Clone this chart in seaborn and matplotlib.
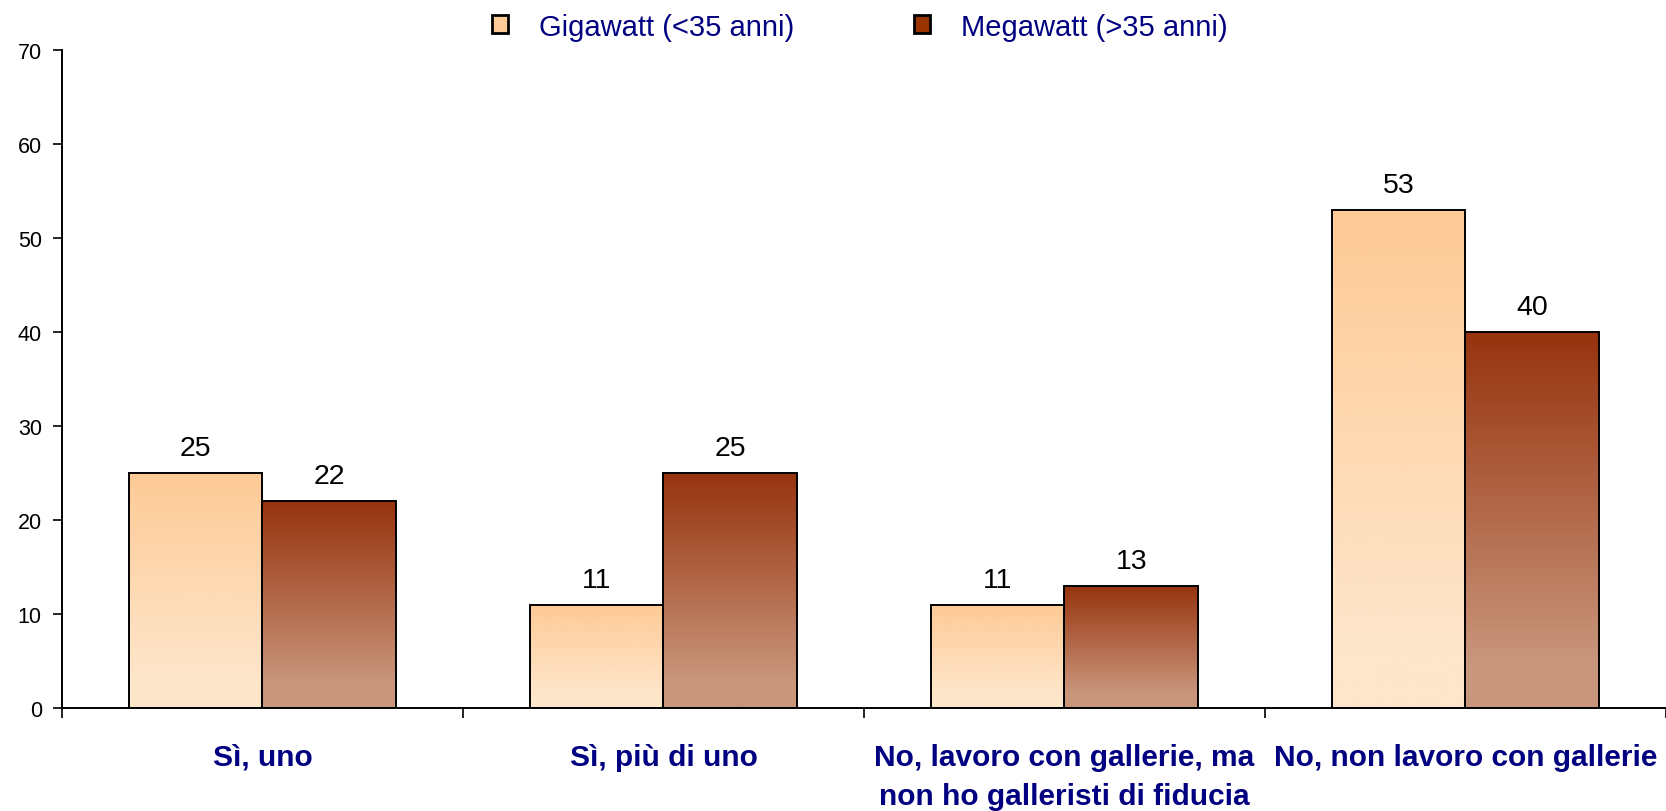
import numpy as np
import pandas as pd
import matplotlib
matplotlib.use("Agg")
import matplotlib.pyplot as plt
import seaborn as sns
from matplotlib.colors import to_rgba

categories = ["Sì, uno", "Sì, più di uno",
              "No, lavoro con gallerie, ma\nnon ho galleristi di fiducia",
              "No, non lavoro con gallerie"]
series_names = ["Gigawatt (<35 anni)", "Megawatt (>35 anni)"]
giga_values = [25, 11, 11, 53]
mega_values = [22, 25, 13, 40]
y_ticks = [0, 10, 20, 30, 40, 50, 60, 70]

legend_colors = ["#FFCC99", "#993300"]
grad_top = ["#FECA96", "#97330E"]
grad_bottom = ["#FEE6CB", "#C9967C"]

sns.set_theme(style="white")
plt.rcParams["font.family"] = ["Liberation Sans", "DejaVu Sans"]

df = pd.DataFrame({
    "cat": categories * 2,
    "val": giga_values + mega_values,
    "serie": [series_names[0]] * 4 + [series_names[1]] * 4,
})

fig = plt.figure(figsize=(16.66, 8.12), dpi=100)
ax = fig.add_axes([0.0372, 0.1268, 0.9628, 0.8102])

sns.barplot(data=df, x="cat", y="val", hue="serie", order=categories,
            hue_order=series_names, palette=legend_colors, saturation=1,
            edgecolor="black", linewidth=1.4, width=0.667, ax=ax)

# gradient fill inside every bar
for ci, cont in enumerate(ax.containers):
    top = np.array(to_rgba(grad_top[ci]))
    bot = np.array(to_rgba(grad_bottom[ci]))
    t = np.linspace(0, 1, 256)
    t = np.clip((t - 0.12) / 0.88, 0, 1)
    arr = bot[None, :] * (1 - t[:, None]) + top[None, :] * t[:, None]
    arr = arr[:, None, :]
    for p in cont.patches:
        x0, w, h = p.get_x(), p.get_width(), p.get_height()
        im = ax.imshow(arr, extent=[x0, x0 + w, 0, h], origin="lower",
                       aspect="auto", zorder=p.get_zorder() - 0.01,
                       interpolation="bilinear")
        im.set_clip_path(p)
        p.set_facecolor("none")
    ax.bar_label(cont, labels=[f"{v:g}" for v in cont.datavalues],
                 padding=8.5, fontsize=20.5, color="black")

ax.set_xlim(-0.5, 3.5)
ax.set_ylim(0, 70)
ax.set_yticks(y_ticks)
ax.set_yticklabels([str(v) for v in y_ticks], fontsize=15.5, color="black")
ax.set_xlabel("")
ax.set_ylabel("")

ax.set_xticks(range(len(categories)))
ax.set_xticklabels(categories, fontsize=21.5, fontweight="bold",
                   color="#000080", linespacing=1.5)
ax.set_xticks([-0.5, 0.5, 1.5, 2.5, 3.5], minor=True)
ax.tick_params(axis="x", which="major", length=0, pad=25)
ax.tick_params(axis="x", which="minor", length=7, width=1.2,
               direction="out", bottom=True, color="black")
ax.tick_params(axis="y", length=6.5, width=1.2, direction="out", left=True,
               color="black", pad=8)

for s in ["top", "right"]:
    ax.spines[s].set_visible(False)
for s in ["left", "bottom"]:
    ax.spines[s].set_color("black")
    ax.spines[s].set_linewidth(1.4)
ax.grid(False)

handles, labels = ax.get_legend_handles_labels()
for h, c in zip(handles, legend_colors):
    h.set_facecolor(c)
    h.set_edgecolor("black")
    h.set_linewidth(2)
leg = ax.legend(handles, labels, loc="center",
                bbox_to_anchor=(859.5 / 1666, 1 - 27.5 / 812),
                bbox_transform=fig.transFigure, ncol=2, frameon=False,
                handlelength=0.55, handleheight=0.55, handletextpad=1.07,
                columnspacing=4.1, prop={"size": 21})
for txt in leg.get_texts():
    txt.set_color("#000080")

fig.savefig("out.png", dpi=100)
